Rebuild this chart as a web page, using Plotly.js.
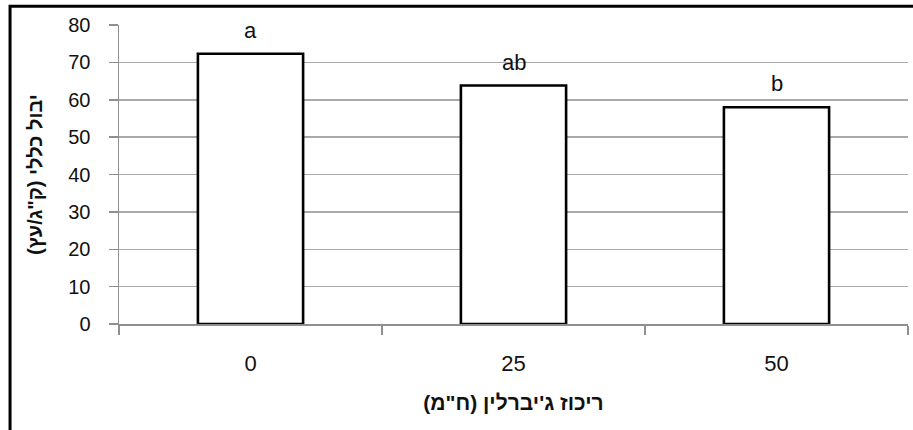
<!DOCTYPE html>
<html>
<head>
<meta charset="utf-8">
<script src="https://cdn.plot.ly/plotly-3.0.1.min.js"></script>
<style>
  html, body { margin: 0; padding: 0; background: #fff; }
  #chart { width: 913px; height: 430px; }
</style>
</head>
<body>
<div id="chart"></div>
<script>
// Data
const categories = ['0', '25', '50'];          // gibberellin concentration (ppm)
const yieldValues = [72.3, 63.8, 58.0];          // total yield (kg/tree)
const letters = ['a', 'ab', 'b'];                // significance groups
const yTickValues = [0, 10, 20, 30, 40, 50, 60, 70, 80];

const xTitle = 'ריכוז ג\'יברלין (ח"מ)';
const yTitle = 'יבול כללי (ק"ג/עץ)';

const axisGray = '#8f8f8f';
const gridGray = '#a9a9a9';

const trace = {
  type: 'bar',
  x: categories,
  y: yieldValues,
  marker: { color: '#ffffff', line: { color: '#000000', width: 2.6 } },
  hoverinfo: 'x+y'
};

// letters placed above each bar (category index on the category axis)
const annotations = categories.map((c, i) => ({
  x: i, y: yieldValues[i], xref: 'x', yref: 'y',
  text: letters[i], showarrow: false, yanchor: 'bottom', yshift: 9,
  font: { family: 'Liberation Sans Narrow, Liberation Sans, Arial, sans-serif', size: 22, color: '#111' }
}));

const layout = {
  width: 913, height: 430,
  margin: { l: 119, r: 5, t: 25, b: 106 },
  paper_bgcolor: '#ffffff', plot_bgcolor: '#ffffff',
  showlegend: false,
  bargap: 0.6,
  xaxis: {
    type: 'category',
    categoryorder: 'array', categoryarray: categories,
    range: [-0.5, 2.5],
    showline: true, linecolor: axisGray, linewidth: 1.5,
    ticks: 'outside', tickson: 'boundaries', ticklen: 9, tickcolor: axisGray, tickwidth: 1.5,
    showgrid: false, zeroline: false,
    ticklabelstandoff: 19,
    tickfont: { family: 'Liberation Sans, Arial, sans-serif', size: 22, color: '#111' },
    title: { text: xTitle, standoff: 20,
      font: { family: 'Liberation Sans, Arial, sans-serif', size: 21, color: '#111', weight: 'bold' } }
  },
  yaxis: {
    range: [0, 80],
    tickvals: yTickValues,
    showline: true, linecolor: axisGray, linewidth: 1.5,
    ticks: 'outside', ticklen: 9, tickcolor: axisGray, tickwidth: 1.5,
    showgrid: true, gridcolor: gridGray, gridwidth: 1.5,
    zeroline: false,
    ticklabelstandoff: 14,
    tickfont: { family: 'Liberation Sans, Arial, sans-serif', size: 20, color: '#111' },
    title: { text: yTitle, standoff: 20,
      font: { family: 'Liberation Sans, Arial, sans-serif', size: 20, color: '#111', weight: 'bold' } }
  },
  annotations: annotations,
  shapes: [{
    type: 'rect', xref: 'paper', yref: 'paper',
    x0: -0.1381, x1: 1.5, y0: -1, y1: 1.0625,
    line: { color: '#000', width: 3 }, fillcolor: 'rgba(0,0,0,0)', layer: 'above'
  }]
};

Plotly.newPlot('chart', [trace], layout, { staticPlot: true, displayModeBar: false });
</script>
</body>
</html>
